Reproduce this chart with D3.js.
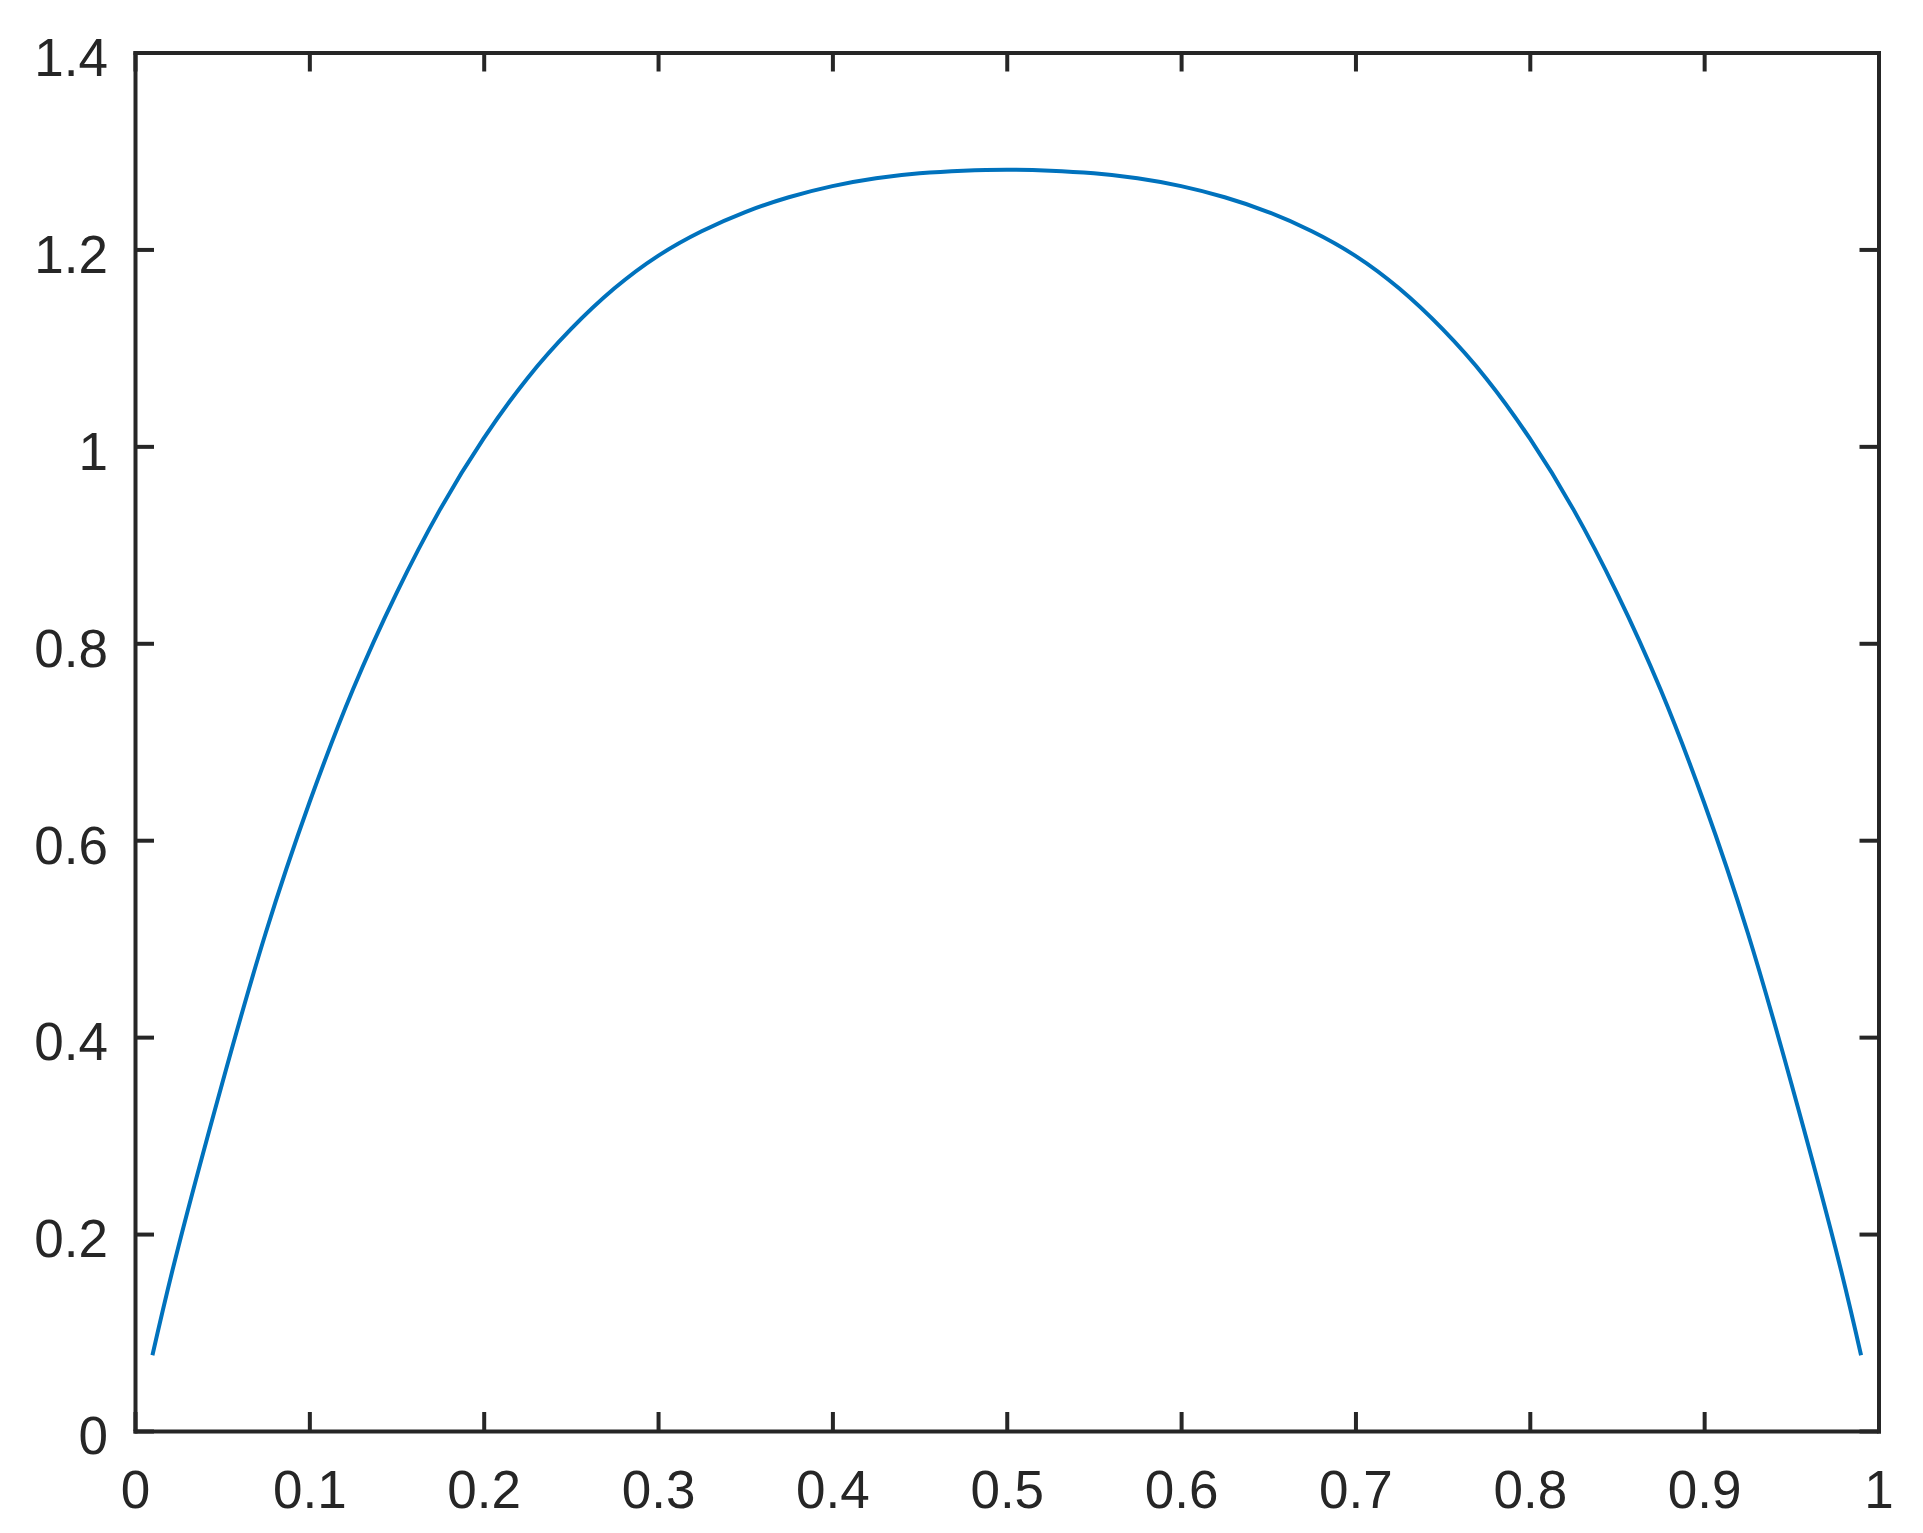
<!DOCTYPE html>
<html>
<head>
<meta charset="utf-8">
<script src="https://cdn.jsdelivr.net/npm/d3@7"></script>
<style>
  body { margin: 0; background: #fff; }
  .line { fill: none; stroke: #0072BD; stroke-width: 4px; }
</style>
</head>
<body>
<svg id="chart" width="1923" height="1533"></svg>
<script>
var x_vals = [0.01, 0.025, 0.05, 0.075, 0.1, 0.125, 0.15, 0.175, 0.2, 0.225, 0.25,
  0.275, 0.3, 0.325, 0.35, 0.375, 0.4, 0.425, 0.45, 0.475, 0.5,
  0.525, 0.55, 0.575, 0.6, 0.625, 0.65, 0.675, 0.7, 0.725, 0.75,
  0.775, 0.8, 0.825, 0.85, 0.875, 0.9, 0.925, 0.95, 0.975, 0.99];
var y_vals = [0.077, 0.188, 0.353, 0.506, 0.638, 0.753, 0.851, 0.936, 1.008, 1.069, 1.119,
  1.1605, 1.1935, 1.2185, 1.238, 1.253, 1.2643, 1.2723, 1.2773, 1.280, 1.281,
  1.280, 1.2773, 1.2723, 1.2643, 1.253, 1.238, 1.2185, 1.1935, 1.1605, 1.119,
  1.069, 1.008, 0.936, 0.851, 0.753, 0.638, 0.506, 0.353, 0.188, 0.077];
var x_ticks = [0, 0.1, 0.2, 0.3, 0.4, 0.5, 0.6, 0.7, 0.8, 0.9, 1];
var y_ticks = [0, 0.2, 0.4, 0.6, 0.8, 1, 1.2, 1.4];

var margin = {top: 52.5, right: 44.5, bottom: 102, left: 135};
var svg_el = d3.select("#chart");
var width = 1923 - margin.left - margin.right;
var height = 1533 - margin.top - margin.bottom;
var svg = svg_el.append("g")
    .attr("transform", "translate(" + margin.left + "," + margin.top + ")");

var x = d3.scaleLinear().domain([0, 1]).range([0, width]);
var y = d3.scaleLinear().domain([0, 1.4]).range([height, 0]);

var data = [];
for (var i = 0; i < x_vals.length; i++) {
  data.push({"x": x_vals[i], "y": y_vals[i]});
}

var valueline = d3.line()
    .curve(d3.curveNatural)
    .x(function(d) { return x(d.x); })
    .y(function(d) { return y(d.y); });

svg.append("path")
    .data([data])
    .attr("class", "line")
    .attr("d", valueline);

var fmt = function(d) { return d3.format("")(d); };
var tick_len = 19;

// bottom + left axes with labels, ticks pointing in
var xAxis = d3.axisBottom(x).tickValues(x_ticks).tickFormat(fmt)
    .tickSizeInner(-tick_len).tickSizeOuter(0).tickPadding(39.5);
var yAxis = d3.axisLeft(y).tickValues(y_ticks).tickFormat(fmt)
    .tickSizeInner(-tick_len).tickSizeOuter(0).tickPadding(27);
// top + right just close the box
var xTop = d3.axisTop(x).tickValues(x_ticks).tickFormat("")
    .tickSizeInner(-tick_len).tickSizeOuter(0);
var yRight = d3.axisRight(y).tickValues(y_ticks).tickFormat("")
    .tickSizeInner(-tick_len).tickSizeOuter(0);

var gx = svg.append("g").attr("transform", "translate(0," + height + ")").call(xAxis);
var gy = svg.append("g").call(yAxis);
var gt = svg.append("g").call(xTop);
var gr = svg.append("g").attr("transform", "translate(" + width + ",0)").call(yRight);

[gx, gy, gt, gr].forEach(function(g) {
  g.selectAll(".domain").attr("stroke", "#262626").attr("stroke-width", 4)
      .attr("stroke-linecap", "square");
  g.selectAll(".tick line").attr("stroke", "#262626").attr("stroke-width", 4);
  g.selectAll("text")
      .attr("fill", "#262626")
      .style("font-family", "'Liberation Sans', Arial, Helvetica, sans-serif")
      .style("font-size", "53px");
});
gy.selectAll("text").attr("dy", "0.43em");
</script>
</body>
</html>
